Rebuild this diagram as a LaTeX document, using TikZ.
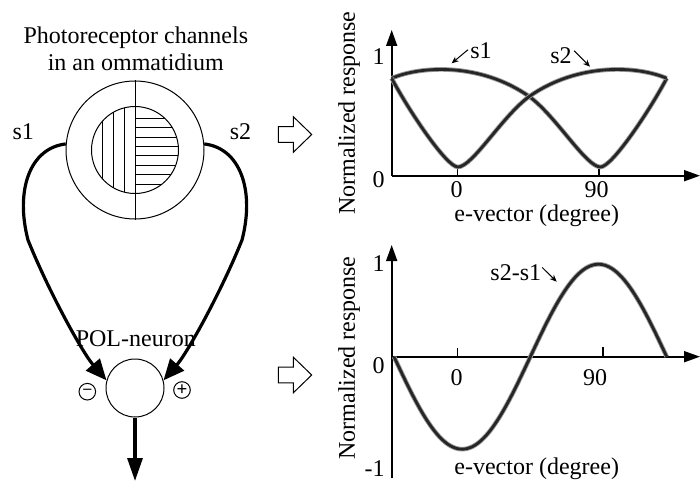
\documentclass[tikz,border=0pt]{standalone}
\usepackage{fontspec}
\setmainfont{Liberation Serif}
\usetikzlibrary{arrows.meta, calc}

\begin{document}
\begin{tikzpicture}[
    x=0.5pt, y=-0.5pt,
    % Define styles
    txt/.style={font=\fontsize{12}{13.7}\selectfont, inner sep=0pt},
    cellbox/.style={circle, draw=black, line width=0.5pt, inner sep=0pt},
    signbox/.style={circle, draw=black, line width=0.5pt, minimum size=8.3pt, inner sep=0pt, font=\fontsize{9.5}{9.5}\selectfont\bfseries},
    hatch/.style={line width=0.5pt},
    channel/.style={line width=1.6pt, -{Triangle[length=10.5pt, width=9pt]}},
    axis/.style={line width=0.9pt, -{Triangle[length=8pt, width=5.5pt]}},
    tick/.style={line width=0.6pt},
    resp/.style={line width=1.4pt, draw=black!85, preaction={draw=black!40, line width=2.3pt}},
    pointer/.style={line width=0.5pt, -{Stealth[length=3.5pt, width=3pt]}},
    hollow/.style={draw=black, line width=0.5pt, fill=white}
]
    \useasboundingbox (0,0) rectangle (700,486);

    % 1. The ommatidium with its two channels
    \node[txt, anchor=base] (title1) at (135.8,43.3) {Photoreceptor channels};
    \node[txt, anchor=base] (title2) at (135.8,70.7) {in an ommatidium};
    \node[cellbox, minimum size=69pt] (omm) at (135,150) {};
    \node[cellbox, minimum size=43.5pt] (rhab) at (135,150) {};
    \begin{scope}
        \clip (135,150) circle[radius=43.5];
        \foreach \k in {1,2,3}
            \draw[hatch] (135-11*\k,100) -- (135-11*\k,200);
        \foreach \k in {-4,...,3}
            \draw[hatch] (135,156+9.4*\k) -- (185,156+9.4*\k);
    \end{scope}
    \draw[hatch] (omm.north) -- (omm.south);

    % 2. The POL-neuron
    \node[cellbox, minimum size=29pt] (pol) at (135,388) {};
    \node[signbox, font=\fontsize{8}{8}\selectfont\bfseries] (minus) at (87.3,391.7) {--};
    \node[signbox] (plus) at (182,390) {+};
    \coordinate (out) at (135,481);
    \coordinate (s1bend) at (28,240);
    \coordinate (s2bend) at (242,240);

    % 3. Connections
    \node[txt, anchor=base] (s1lab) at (23.3,139.3) {s1};
    \node[txt, anchor=base] (s2lab) at (240.5,139.3) {s2};
    \draw[channel] (omm.175) .. controls (30,148) and (15,190) .. (s1bend) .. controls (48,290) and (82,352) .. (pol.165);
    \draw[channel] (omm.5) .. controls (240,148) and (255,190) .. (s2bend) .. controls (222,290) and (188,352) .. (pol.15);
    \draw[channel, -{Triangle[length=11.5pt, width=7.5pt]}] (pol.south) -- (out);
    \node[txt, anchor=base] (polname) at (135.8,346.7) {POL-neuron};

    % 4. Hollow arrows towards the plots
    \foreach \yy in {134.5,375}
        \draw[hollow] (278.3,\yy-7.8) -- (293.3,\yy-7.8) -- (293.3,\yy-17.8) -- (311.7,\yy)
            -- (293.3,\yy+17.8) -- (293.3,\yy+7.8) -- (278.3,\yy+7.8) -- cycle;

    % 5. Upper plot: s1 and s2
    \coordinate (o1) at (391.7,175.7);
    \draw[axis] (o1) -- (700,175.7);
    \draw[axis] (o1) -- (391.7,30);
    \draw[tick] (457.3,168) -- (457.3,175.7);
    \draw[tick] (599,168) -- (599,175.7);
    \node[txt, anchor=base east] (ya1) at (385,65) {1};
    \node[txt, anchor=base east] (ya0) at (385,188) {0};
    \node[txt, anchor=base] (xa0) at (456.7,198) {0};
    \node[txt, anchor=base] (xa90) at (596.7,198) {90};
    \node[txt, rotate=90] (ylabA) at (349,113) {Normalized response};
    \node[txt, anchor=base] (xlabA) at (536.7,221) {e-vector (degree)};
    \draw[resp] (391.7,78.3) .. controls (420,66) and (480,62) .. (529.2,96.5)
        .. controls (556,116) and (586,167) .. (600.5,167)
        .. controls (612,167) and (650,110) .. (666.7,78.3);
    \draw[resp] (666.7,78.3) .. controls (638.4,66) and (578.4,62) .. (529.2,96.5)
        .. controls (502.4,116) and (472.4,167) .. (457.9,167)
        .. controls (446.4,167) and (408.4,110) .. (391.7,78.3);
    \node[txt, anchor=base] (s1tag) at (481,58.3) {s1};
    \node[txt, anchor=base] (s2tag) at (561,63.3) {s2};
    \coordinate (s1tip) at (451.7,63.3);
    \coordinate (s2tip) at (590,66.7);
    \draw[pointer] ([shift={(-1pt,4.6pt)}]s1tag.south west) -- (s1tip);
    \draw[pointer] ([shift={(1pt,6.6pt)}]s2tag.south east) -- (s2tip);

    % 6. Lower plot: s2-s1
    \coordinate (o2) at (391.7,356.7);
    \draw[axis] (o2) -- (700,356.7);
    \draw[axis] (391.7,478) -- (391.7,245);
    \draw[tick] (457.3,348.3) -- (457.3,356.7);
    \draw[tick] (603,347) -- (603,356.7);
    \node[txt, anchor=base east] (yb1) at (385,271.7) {1};
    \node[txt, anchor=base east] (yb0) at (385,373) {0};
    \node[txt, anchor=base east] (ybm1) at (385,476.7) {-1};
    \node[txt, anchor=base] (xb0) at (456.7,385) {0};
    \node[txt, anchor=base] (xb90) at (595,385) {90};
    \node[txt, rotate=90] (ylabB) at (349,358) {Normalized response};
    \node[txt, anchor=base] (xlabB) at (536.7,474) {e-vector (degree)};
    \draw[resp] plot[domain=0:360, samples=72, smooth] ({394+\x/360*272.7}, {356.7+92.5*sin(\x)});
    \node[txt, anchor=base] (difftag) at (515.8,280) {s2-s1};
    \coordinate (difftip) at (556.7,281.7);
    \draw[pointer] ([shift={(0.3pt,6.6pt)}]difftag.south east) -- (difftip);

\end{tikzpicture}
\end{document}
